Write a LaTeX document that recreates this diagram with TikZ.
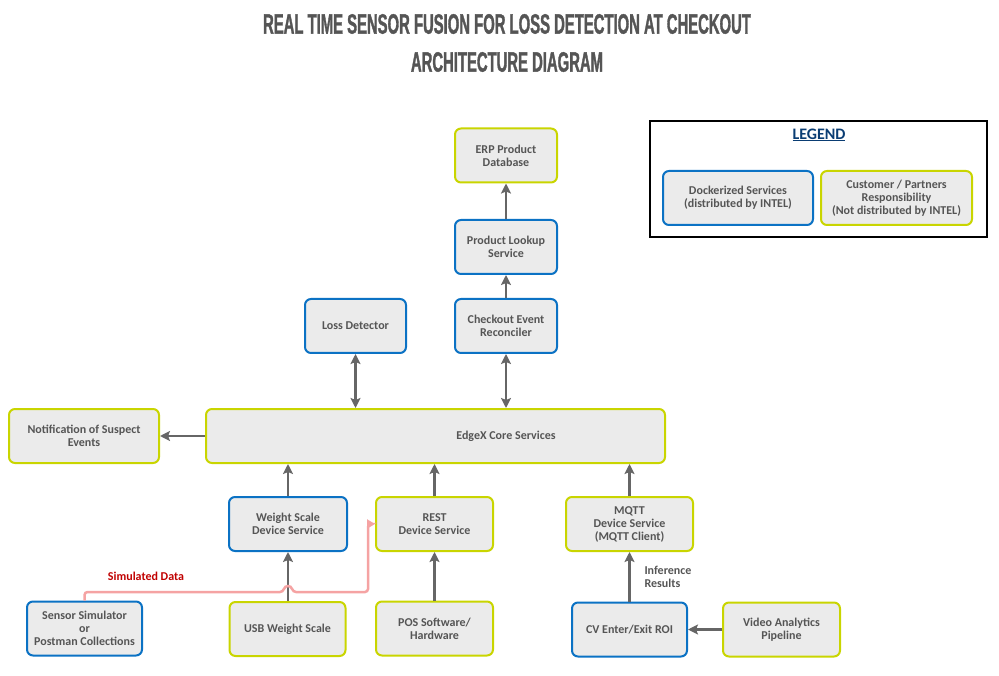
\documentclass[tikz,border=0pt]{standalone}
\usepackage{fontspec}
\setmainfont{Carlito}
\newfontfamily\titlefont[FakeStretch=0.53,BoldFeatures={FakeBold=1.2}]{Liberation Sans}
\usetikzlibrary{arrows.meta}

\definecolor{intelblue}{HTML}{0B72C4}
\definecolor{partnergreen}{HTML}{C9D500}
\definecolor{boxfill}{HTML}{EBEBEB}
\definecolor{textgray}{HTML}{555555}
\definecolor{arrowgray}{HTML}{666666}
\definecolor{simred}{HTML}{C00000}
\definecolor{simpink}{HTML}{F5A3A3}
\definecolor{legendblue}{HTML}{0A3D73}

\begin{document}
\begin{tikzpicture}[x=1pt,y=-1pt,
  every node/.style={font=\fontsize{12}{13}\selectfont\bfseries,text=textgray,align=center},
  dockerbox/.style={draw=intelblue,line width=2pt,fill=boxfill,rounded corners=6pt,minimum height=54pt,inner sep=2pt},
  partnerbox/.style={draw=partnergreen,line width=2pt,fill=boxfill,rounded corners=6pt,minimum height=54pt,inner sep=2pt},
  flow/.style={draw=arrowgray,line width=2.5pt,-{Stealth[length=10pt,width=10pt,inset=2pt]}},
  flowboth/.style={draw=arrowgray,line width=2.5pt,{Stealth[length=10pt,width=10pt,inset=2pt]}-{Stealth[length=10pt,width=10pt,inset=2pt]}}]

\useasboundingbox (0,0) rectangle (999,676);

% title
\node[font=\titlefont\bfseries\fontsize{28}{30}\selectfont] (title) at (507,24) {REAL TIME SENSOR FUSION FOR LOSS DETECTION AT CHECKOUT};
\node[font=\titlefont\bfseries\fontsize{28}{30}\selectfont] (subtitle) at (507,62) {ARCHITECTURE DIAGRAM};

% legend
\node[draw=black,line width=2pt,minimum width=337pt,minimum height=116pt] (legend) at (818.5,179) {};
\node[text=legendblue,font=\fontsize{16}{18}\selectfont\bfseries] (legendtitle) at (819,135) {\underline{LEGEND}};
\node[dockerbox,minimum width=150pt] (keydocker) at (738,198) {Dockerized Services\\(distributed by INTEL)};
\node[partnerbox,minimum width=151pt] (keypartner) at (896.5,198) {Customer / Partners\\Responsibility\\(Not distributed by INTEL)};

% upper services
\node[partnerbox,minimum width=102pt] (erp) at (506,155.5) {ERP Product\\Database};
\node[dockerbox,minimum width=102pt] (lookup) at (506,247) {Product Lookup\\Service};
\node[dockerbox,minimum width=102pt] (reconciler) at (506,326) {Checkout Event\\Reconciler};
\node[dockerbox,minimum width=101pt] (loss) at (355.5,326) {Loss Detector};

% core
\node[partnerbox,minimum width=459pt] (edgex) at (435.5,436) {};
\node (edgexlabel) at (506,436) {EdgeX Core Services};
\node[partnerbox,minimum width=150pt] (notify) at (84,436) {Notification of Suspect\\Events};

% device services
\node[dockerbox,minimum width=118pt] (scaleds) at (288,524) {Weight Scale\\Device Service};
\node[partnerbox,minimum width=117pt] (restds) at (434.5,524) {REST\\Device Service};
\node[partnerbox,minimum width=127pt] (mqttds) at (629.5,524) {MQTT\\Device Service\\(MQTT Client)};

% sources
\node[dockerbox,minimum width=115pt] (simulator) at (84.5,628.5) {Sensor Simulator\\or\\Postman Collections};
\node[partnerbox,minimum width=116pt] (usbscale) at (287.5,629) {USB Weight Scale};
\node[partnerbox,minimum width=117pt] (pos) at (434.5,628.5) {POS Software/\\Hardware};
\node[dockerbox,minimum width=115pt] (cvroi) at (629.5,629.5) {CV Enter/Exit ROI};
\node[partnerbox,minimum width=117pt] (pipeline) at (781.5,629.5) {Video Analytics\\Pipeline};

% connectors
\draw[flow] (lookup) -- (erp);
\draw[flow] (reconciler) -- (lookup);
\draw[flowboth] (reconciler.south) -- (reconciler.south |- edgex.north);
\draw[flowboth] (loss.south) -- (loss.south |- edgex.north);
\draw[flow] (edgex.west) -- (notify.east);
\draw[flow] (scaleds.north) -- (scaleds.north |- edgex.south);
\draw[flow] (restds.north) -- (restds.north |- edgex.south);
\draw[flow] (mqttds.north) -- (mqttds.north |- edgex.south);
\draw[flow] (scaleds.south |- usbscale.north) -- (scaleds.south);
\draw[flow] (pos) -- (restds);
\draw[flow] (cvroi) -- (mqttds);
\draw[flow] (pipeline) -- (cvroi);

\node[anchor=west,align=left] (inferlabel) at (641,576.5) {Inference\\Results};

% simulated data
\draw[simpink,line width=2.5pt,rounded corners=3pt,-{Triangle[length=8pt,width=9pt]}]
  (simulator.north) -- (84.5,592) -- (283,592) .. controls (285,585) and (291,585) .. (293,592)
  -- (368,592) |- (restds.west);
\node[text=simred] (simlabel) at (146,576) {Simulated Data};

\end{tikzpicture}
\end{document}
